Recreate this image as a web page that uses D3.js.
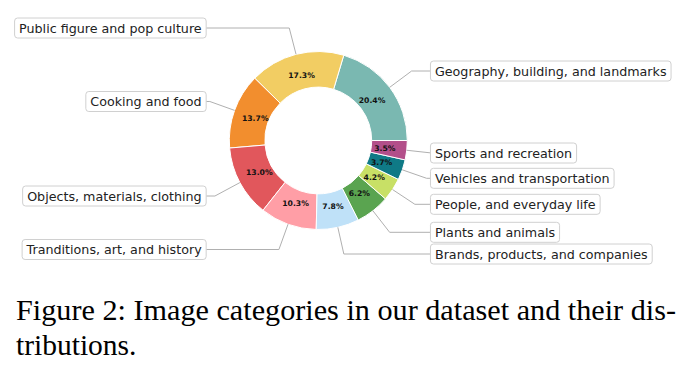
<!DOCTYPE html>
<html>
<head>
<meta charset="utf-8">
<script src="https://cdn.jsdelivr.net/npm/d3@7"></script>
<style>
  body { margin: 0; background: #fff; }
  svg { display: block; }
</style>
</head>
<body>
<script>
// categories, counter-clockwise from 3 o'clock
const categories = [
  "Geography, building, and landmarks",
  "Public figure and pop culture",
  "Cooking and food",
  "Objects, materials, clothing",
  "Tranditions, art, and history",
  "Brands, products, and companies",
  "Plants and animals",
  "People, and everyday life",
  "Vehicles and transportation",
  "Sports and recreation"
];
const shares = [20.4, 17.3, 13.7, 13.0, 10.3, 7.8, 6.2, 4.2, 3.7, 3.5];
const colors = ["#7ab8b1", "#f2cd63", "#f28e2e", "#e1575c", "#ff9ea6",
                "#bfe1f8", "#5aa450", "#c8e066", "#0f7a86", "#b34f8a"];
// vertical placement of the label boxes (px)
const labelY = [71, 28, 101.5, 196, 249.5, 254, 232.3, 204.3, 178.3, 153];

const width = 691, height = 377;
const cx = 318.3, cy = 140.5;
const R = 89, r0 = 53.4;

const svg = d3.select("body").append("svg")
  .attr("width", width)
  .attr("height", height);

const pie = d3.pie().sort(null).value(d => d)
  .startAngle(Math.PI / 2).endAngle(Math.PI / 2 - 2 * Math.PI);
const arcs = pie(shares);

const arc = d3.arc().innerRadius(r0).outerRadius(R);
const g = svg.append("g").attr("transform", `translate(${cx},${cy})`);

g.selectAll("path.wedge")
  .data(arcs)
  .enter().append("path")
  .attr("class", "wedge")
  .attr("d", arc)
  .attr("fill", (d, i) => colors[i])
  .attr("stroke", "#fff")
  .attr("stroke-width", 1);

const pctArc = d3.arc().innerRadius(67).outerRadius(67);
g.selectAll("text.pct")
  .data(arcs)
  .enter().append("text")
  .attr("class", "pct")
  .attr("transform", d => `translate(${pctArc.centroid(d)})`)
  .attr("text-anchor", "middle")
  .attr("dy", "0.35em")
  .style("font-family", "DejaVu Sans")
  .style("font-weight", "bold")
  .style("font-size", "7.7px")
  .attr("fill", "#111")
  .text(d => d.data.toFixed(1) + "%");

// annotations: box + angled connector
const edgeOff = 1.26 * R;
const lines = svg.append("g");
const boxes = svg.append("g");

arcs.forEach((d, i) => {
  const a = (d.startAngle + d.endAngle) / 2;
  const ux = Math.sin(a), uy = -Math.cos(a);
  const px = cx + R * ux, py = cy + R * uy;
  const side = ux >= 0 ? 1 : -1;
  const edge = cx + side * edgeOff;
  const ly = labelY[i];

  const t = (ly - py) / uy;
  const kx = px + t * ux;
  let pts;
  if ((kx - edge) * side > 0) {
    const t2 = (edge - px) / ux;
    pts = [[px, py], [edge, py + t2 * uy]];
  } else {
    pts = [[px, py], [kx, ly], [edge, ly]];
  }
  lines.append("path")
    .attr("d", d3.line()(pts))
    .attr("fill", "none")
    .attr("stroke", "#b0b0b0")
    .attr("stroke-width", 1);

  const bg = boxes.append("g");
  const rect = bg.append("rect");
  const txt = bg.append("text")
    .attr("x", edge + side * 4.5)
    .attr("y", ly)
    .attr("dy", "0.36em")
    .attr("text-anchor", side > 0 ? "start" : "end")
    .style("font-family", "DejaVu Sans")
    .style("font-size", "12.7px")
    .attr("fill", "#222")
    .text(categories[i]);
  const w = txt.node().getComputedTextLength() + 9;
  rect.attr("x", side > 0 ? edge : edge - w)
    .attr("y", ly - 10)
    .attr("width", w)
    .attr("height", 20)
    .attr("rx", 3)
    .attr("fill", "#fff")
    .attr("stroke", "#d0d0d0")
    .attr("stroke-width", 1);
});

// caption
const captionLines = [
  "Figure 2: Image categories in our dataset and their dis-",
  "tributions."
];
const cap = svg.selectAll("text.caption")
  .data(captionLines)
  .enter().append("text")
  .attr("class", "caption")
  .attr("x", 16)
  .attr("y", (d, i) => 319.5 + i * 35)
  .style("font-family", "Liberation Serif")
  .style("font-size", "29.5px")
  .attr("fill", "#000")
  .text(d => d);
// first line is justified to the column width
cap.filter((d, i) => i === 0)
  .attr("textLength", 660)
  .attr("lengthAdjust", "spacingAndGlyphs");
</script>
</body>
</html>
